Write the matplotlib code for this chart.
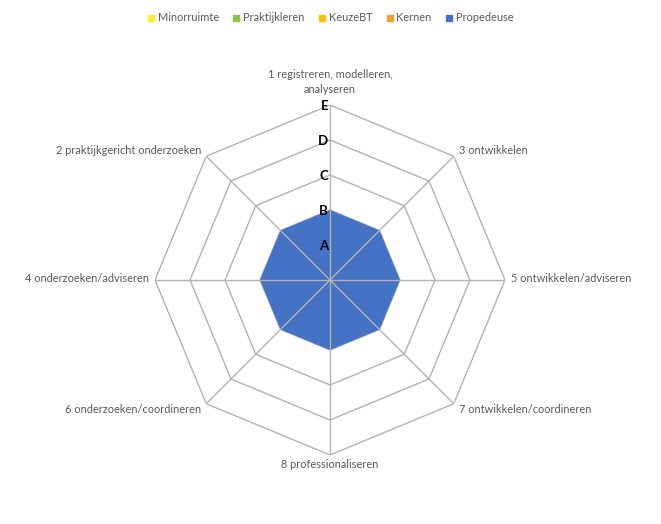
import numpy as np
import matplotlib
matplotlib.use("Agg")
import matplotlib.pyplot as plt
from matplotlib.lines import Line2D
from matplotlib.transforms import offset_copy

categories = [
    "1 registreren, modelleren,\nanalyseren",
    "3 ontwikkelen",
    "5 ontwikkelen/adviseren",
    "7 ontwikkelen/coordineren",
    "8 professionaliseren",
    "6 onderzoeken/coordineren",
    "4 onderzoeken/adviseren",
    "2 praktijkgericht onderzoeken",
]
series_names = ["Minorruimte", "Praktijkleren", "KeuzeBT", "Kernen", "Propedeuse"]
minorruimte = [0, 0, 0, 0, 0, 0, 0, 0]
praktijkleren = [0, 0, 0, 0, 0, 0, 0, 0]
keuzebt = [0, 0, 0, 0, 0, 0, 0, 0]
kernen = [0, 0, 0, 0, 0, 0, 0, 0]
propedeuse = [2, 2, 2, 2, 2, 2, 2, 2]
level_values = [1, 2, 3, 4, 5]
level_labels = ["A", "B", "C", "D", "E"]

colors = ["#FFEB3B", "#8DC63F", "#FFC000", "#F0A030", "#4472C4"]
all_series = [minorruimte, praktijkleren, keuzebt, kernen, propedeuse]

plt.rcParams['font.family'] = ['Lato', 'DejaVu Sans']

W, H = 661, 524
fig = plt.figure(figsize=(W / 100, H / 100), dpi=100)
cx, cy, R = 330, 280, 175
ax = fig.add_axes([(cx - R) / W, (H - cy - R) / H, 2 * R / W, 2 * R / H], projection='polar')
ax.set_theta_zero_location('N')
ax.set_theta_direction(-1)
ax.set_ylim(0, 5)
ax.grid(False)
ax.set_frame_on(False)
ax.set_xticks([])
ax.set_yticks([])
ax.patch.set_alpha(0)

n = len(categories)
theta = np.linspace(0, 2 * np.pi, n, endpoint=False)
theta_c = np.append(theta, theta[0])

grid_color = "#B3B3B3"
# rings (behind the data)
for lv in level_values:
    ax.plot(theta_c, [lv] * (n + 1), color=grid_color, lw=1.0, zorder=1)

# series
for name, vals, col in zip(series_names, all_series, colors):
    v = np.append(vals, vals[0])
    ax.fill(theta_c, v, color=col, zorder=2, lw=0)

# spokes (on top)
for t in theta:
    ax.plot([t, t], [0, level_values[-1]], color=grid_color, lw=1.0, zorder=3)

# level labels
for lv, lab in zip(level_values, level_labels):
    tr = offset_copy(ax.transData, fig=fig, x=-2, y=-1, units='dots')
    ax.text(0, lv, lab, transform=tr, ha='right', va='center', fontsize=9.5,
            fontweight='bold', color='black', zorder=5)

# category labels
label_color = "#595959"
fs = 7.9
specs = [
    (0, 10, 'center', 'bottom'),
    (5, 6, 'left', 'center'),
    (6, 2, 'left', 'center'),
    (5, -6, 'left', 'center'),
    (0, -10, 'center', 'center'),
    (-5, -6, 'right', 'center'),
    (-6, 2, 'right', 'center'),
    (-5, 6, 'right', 'center'),
]
for t, lab, (dx, dy, ha, va) in zip(theta, categories, specs):
    tr = offset_copy(ax.transData, fig=fig, x=dx, y=dy, units='dots')
    ax.text(t, 5, lab, transform=tr, ha=ha, va=va, fontsize=fs, color=label_color,
            multialignment='center', linespacing=1.45)

handles = [Line2D([], [], marker='s', ls='none', color=c, markersize=5) for c in colors]
fig.legend(handles, series_names, loc='upper center', bbox_to_anchor=(0.5, 0.995), ncol=5,
           frameon=False, fontsize=fs, handlelength=0.6, handletextpad=0.3,
           columnspacing=1.3, labelcolor=label_color)

fig.savefig("out.png", dpi=100)
